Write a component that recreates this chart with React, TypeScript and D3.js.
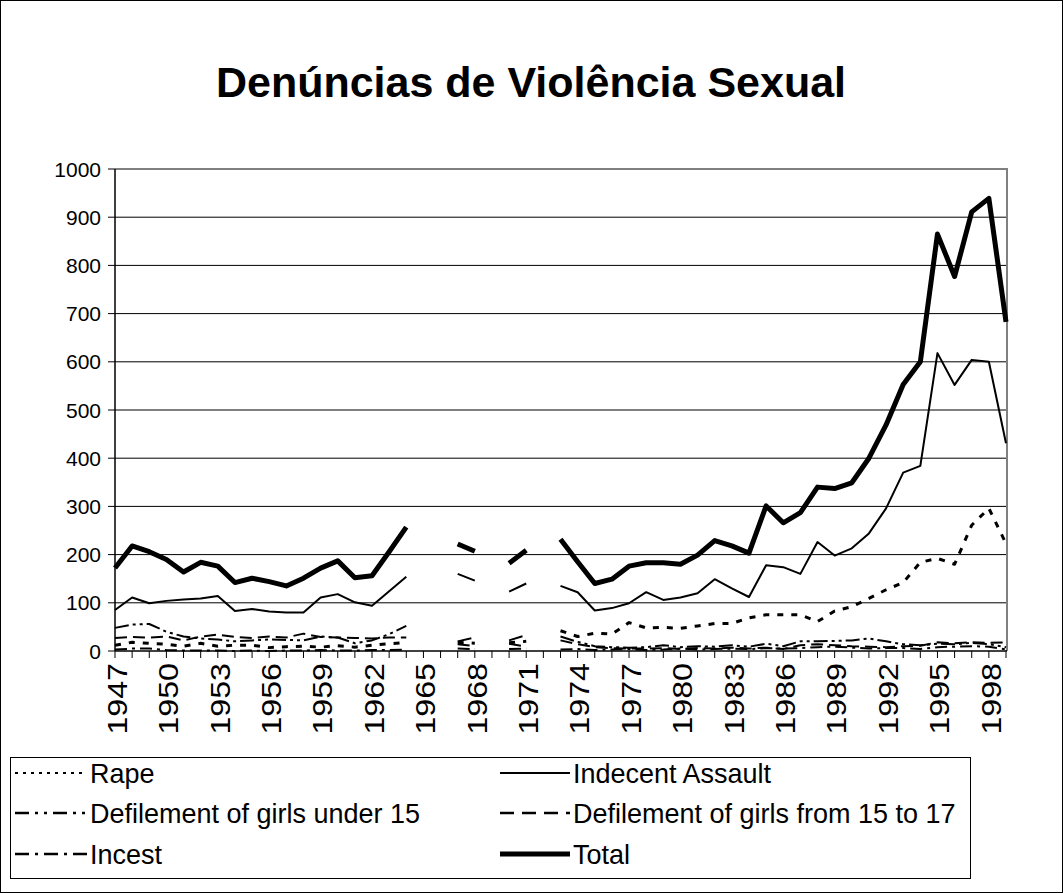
import * as d3 from "d3";

const W = 1063;
const H = 893;

const years = [
  1947, 1948, 1949, 1950, 1951, 1952, 1953, 1954, 1955, 1956, 1957, 1958, 1959,
  1960, 1961, 1962, 1963, 1964, 1965, 1966, 1967, 1968, 1969, 1970, 1971, 1972,
  1973, 1974, 1975, 1976, 1977, 1978, 1979, 1980, 1981, 1982, 1983, 1984, 1985,
  1986, 1987, 1988, 1989, 1990, 1991, 1992, 1993, 1994, 1995, 1996, 1997, 1998,
  1999,
];

// null = no data for that year (gaps in the lines)
const rape = [
  12, 18, 16, 14, 10, 16, 10, 12, 12, 7, 9, 10, 8, 11, 8, 12, 15, 18, null, null,
  18, 16, null, 17, 20, null, 42, 30, 37, 35, 59, 48, 49, 47, 52, 57, 57, 69, 75,
  75, 75, 61, 83, 92, 109, 127, 142, 184, 192, 180, 261, 296, 223,
];
const indecentAssault = [
  85, 111, 99, 104, 107, 109, 114, 83, 87, 82, 80, 80, 111, 118, 101, 94, 124,
  154, null, null, 160, 146, null, 123, 140, null, 135, 122, 84, 89, 99, 122, 106,
  111, 120, 149, 130, 112, 178, 174, 160, 226, 198, 213, 244, 296, 370, 384, 618,
  552, 604, 600, 431,
];
const defUnder15 = [
  48, 55, 56, 40, 30, 26, 24, 20, 22, 24, 23, 22, 30, 28, 16, 22, 35, 52, null,
  null, 20, 28, null, 22, 33, null, 30, 19, 10, 8, 7, 8, 12, 8, 10, 9, 12, 9, 15,
  10, 20, 20, 21, 22, 26, 20, 14, 12, 15, 14, 17, 14, 8,
];
const def15to17 = [
  27, 29, 28, 30, 22, 30, 34, 29, 27, 30, 28, 36, 29, 28, 27, 26, 28, 28, null,
  null, 14, 10, null, 15, 9, null, 22, 14, 8, 6, 5, 5, 6, 4, 6, 5, 7, 5, 7, 4, 12,
  14, 12, 10, 9, 8, 10, 11, 18, 16, 18, 17, 18,
];
const incest = [
  3, 5, 5, 2, 1, 1, 1, 0, 1, 0, 1, 1, 2, 1, 1, 2, 2, 3, null, null, 5, 4, null, 4,
  5, null, 3, 4, 2, 3, 4, 2, 3, 5, 3, 4, 5, 4, 6, 5, 6, 8, 9, 7, 5, 6, 6, 4, 8, 9,
  10, 9, 3,
];
const total = [
  172, 218, 206, 190, 164, 184, 176, 142, 151, 144, 135, 151, 172, 187, 152, 156,
  206, 257, null, null, 222, 207, null, 182, 209, null, 232, 185, 140, 149, 176,
  183, 183, 180, 199, 229, 218, 203, 301, 266, 287, 340, 337, 349, 400, 469, 553,
  600, 865, 777, 911, 939, 683,
];

const yTicks = [0, 100, 200, 300, 400, 500, 600, 700, 800, 900, 1000];
const xLabelYears = [
  1947, 1950, 1953, 1956, 1959, 1962, 1965, 1968, 1971, 1974, 1977, 1980, 1983,
  1986, 1989, 1992, 1995, 1998,
];

const font = "Arial, 'Liberation Sans', sans-serif";

const series = [
  { name: "Rape", values: rape, width: 3, dash: "6 8", legendDash: "3 5", legendWidth: 2 },
  { name: "Indecent Assault", values: indecentAssault, width: 2, dash: "none", legendDash: "none", legendWidth: 2 },
  { name: "Defilement of girls under 15", values: defUnder15, width: 2, dash: "14 4 3 4 3 4", legendDash: "14 6 3 6 3 6", legendWidth: 2.5 },
  { name: "Defilement of girls from 15 to 17", values: def15to17, width: 2, dash: "12 6", legendDash: "14 8", legendWidth: 2.5 },
  { name: "Incest", values: incest, width: 2, dash: "12 5 3 5", legendDash: "14 6 3 6", legendWidth: 2.5 },
  { name: "Total", values: total, width: 5, dash: "none", legendDash: "none", legendWidth: 5 },
];

export default function App() {
  const x = d3.scaleLinear().domain([1947, 1999]).range([115, 1006]);
  const y = d3.scaleLinear().domain([0, 1000]).range([651, 169]);

  const line = d3
    .line<number>()
    .defined((_, i, arr) => arr[i] != null)
    .x((_, i) => x(years[i]))
    .y((d) => y(d));

  const legendRows = [773, 813, 854];
  const legendCols = [{ sx: 15, tx: 90 }, { sx: 500, tx: 573 }];

  return (
    <svg
      width={W}
      height={H}
      viewBox={`0 0 ${W} ${H}`}
      style={{ position: "absolute", left: 0, top: 0, background: "white" }}
      fontFamily={font}
    >
      <rect x={0.5} y={0.5} width={W - 1} height={H - 1} fill="white" stroke="black" />

      <text x={531} y={97} textAnchor="middle" fontSize={43} fontWeight="bold">
        Denúncias de Violência Sexual
      </text>

      {/* gridlines */}
      {yTicks.slice(1).map((t) => (
        <line key={t} x1={115} x2={1006} y1={y(t)} y2={y(t)} stroke="black" strokeWidth={1} />
      ))}
      {/* plot frame: top/right in gray */}
      <path d={`M115,${y(1000)}H1007V${y(0)}`} fill="none" stroke="#808080" strokeWidth={2} />

      {/* y axis */}
      <line x1={115} x2={115} y1={y(1000)} y2={y(0)} stroke="black" strokeWidth={1.5} />
      {yTicks.map((t) => (
        <g key={t}>
          <line x1={108} x2={115} y1={y(t)} y2={y(t)} stroke="black" />
          <text x={101} y={y(t)} textAnchor="end" dominantBaseline="central" fontSize={21}>
            {t}
          </text>
        </g>
      ))}

      {/* x axis */}
      <line x1={115} x2={1007} y1={y(0)} y2={y(0)} stroke="black" strokeWidth={1.5} />
      {years.map((yr) => (
        <line key={yr} x1={x(yr)} x2={x(yr)} y1={y(0)} y2={y(0) + 7} stroke="black" />
      ))}
      {xLabelYears.map((yr) => (
        <text
          key={yr}
          transform={`translate(${x(yr) + 2},663) rotate(-90) scale(1.15,1)`}
          textAnchor="end"
          dominantBaseline="central"
          fontSize={28}
        >
          {yr}
        </text>
      ))}

      {/* series */}
      {series.map((s) => (
        <path
          key={s.name}
          d={line(s.values as number[]) ?? ""}
          fill="none"
          stroke="black"
          strokeWidth={s.width}
          strokeDasharray={s.dash}
          strokeLinejoin="round"
        />
      ))}

      {/* legend */}
      <rect x={10.5} y={757.5} width={960} height={121} fill="white" stroke="black" />
      {series.map((s, i) => {
        const col = legendCols[i % 2];
        const ry = legendRows[Math.floor(i / 2)];
        return (
          <g key={s.name}>
            <line
              x1={col.sx}
              x2={col.tx - 3}
              y1={ry}
              y2={ry}
              stroke="black"
              strokeWidth={s.legendWidth}
              strokeDasharray={s.legendDash}
            />
            <text
              x={col.tx}
              y={ry}
              dominantBaseline="central"
              fontSize={27}
              transform={`translate(0,${ry}) scale(1,1.05) translate(0,${-ry})`}
            >
              {s.name}
            </text>
          </g>
        );
      })}
    </svg>
  );
}
